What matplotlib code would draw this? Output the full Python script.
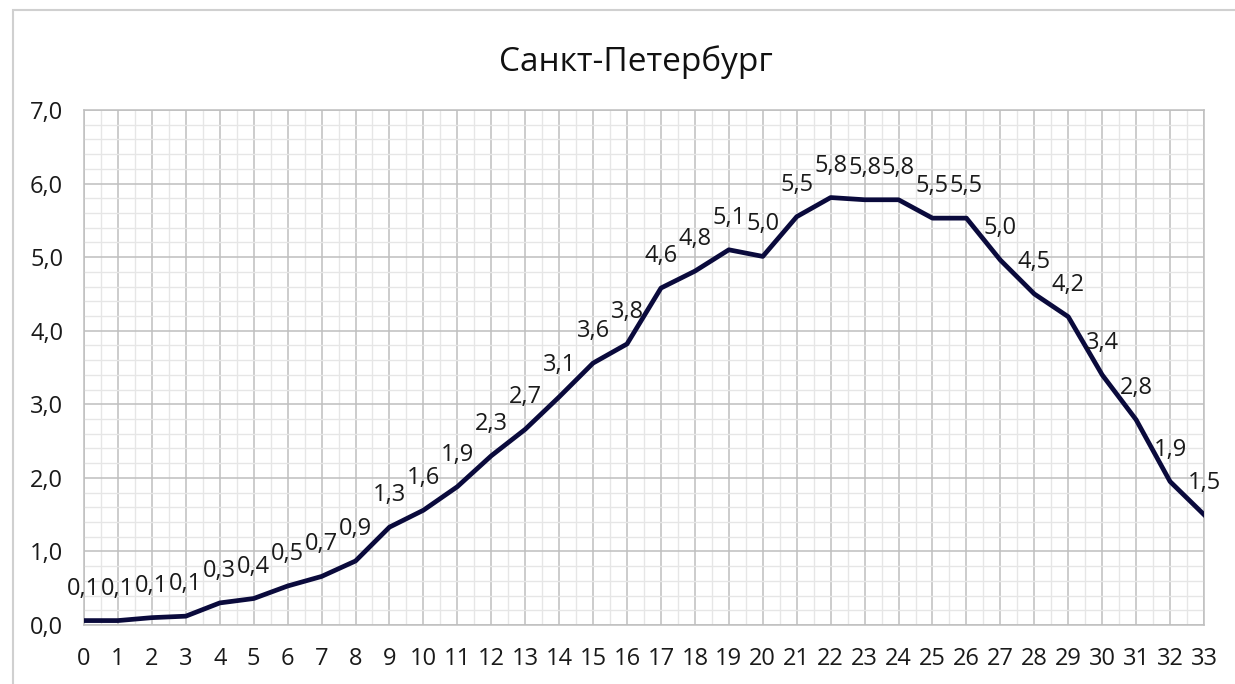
import numpy as np
import matplotlib.pyplot as plt
from matplotlib.patches import Rectangle
from matplotlib.ticker import MultipleLocator, FuncFormatter

plt.rcParams['font.family'] = ['Open Sans', 'DejaVu Sans']

# data
title = 'Санкт-Петербург'
days = list(range(0, 34))
values = [0.06, 0.06, 0.10, 0.12, 0.30, 0.36, 0.53, 0.66, 0.87, 1.33,
          1.56, 1.88, 2.30, 2.66, 3.10, 3.56, 3.82, 4.58, 4.81, 5.10,
          5.01, 5.55, 5.81, 5.78, 5.78, 5.53, 5.53, 4.96, 4.50, 4.19,
          3.40, 2.79, 1.95, 1.50]


def comma(v, pos=None):
    return f'{v:.1f}'.replace('.', ',')


fig = plt.figure(figsize=(12.35, 6.84), dpi=100)
ax = fig.add_axes([84 / 1235, 1 - 625 / 684, (1204 - 84) / 1235, (625 - 110) / 684])

ax.plot(days, values, color='#0a0a3c', lw=3.4, solid_joinstyle='round', zorder=3)

# data labels above each point
for x, y in zip(days, values):
    ax.annotate(comma(y), (x, y), xytext=(0, 23), textcoords='offset points',
                ha='center', va='center', fontsize=17, color='#1a1a1a', zorder=4)

ax.set_xlim(0, 33)
ax.set_ylim(0, 7)
ax.xaxis.set_major_locator(MultipleLocator(1))
ax.xaxis.set_minor_locator(MultipleLocator(0.5))
ax.yaxis.set_major_locator(MultipleLocator(1))
ax.yaxis.set_minor_locator(MultipleLocator(0.2))
ax.yaxis.set_major_formatter(FuncFormatter(comma))

ax.grid(which='major', color='#bfbfbf', lw=1.1)
ax.grid(which='minor', color='#e6e6e6', lw=1.0)
ax.set_axisbelow(True)
for s in ax.spines.values():
    s.set_color('#bfbfbf')
    s.set_linewidth(1.1)

ax.tick_params(which='both', length=0)
ax.tick_params(axis='y', pad=15, labelsize=17, labelcolor='#1a1a1a')
ax.tick_params(axis='x', pad=16, labelsize=17, labelcolor='#1a1a1a')

fig.text(0.515, 1 - 62 / 684, title, ha='center', va='center', fontsize=24, color='#111111')

# outer chart border
fig.patches.append(Rectangle((13 / 1235, -0.1), 1.2, (684 - 10) / 684 + 0.1,
                             transform=fig.transFigure, fill=False,
                             edgecolor='#d0d0d0', lw=1.5))

plt.savefig('out.png')
